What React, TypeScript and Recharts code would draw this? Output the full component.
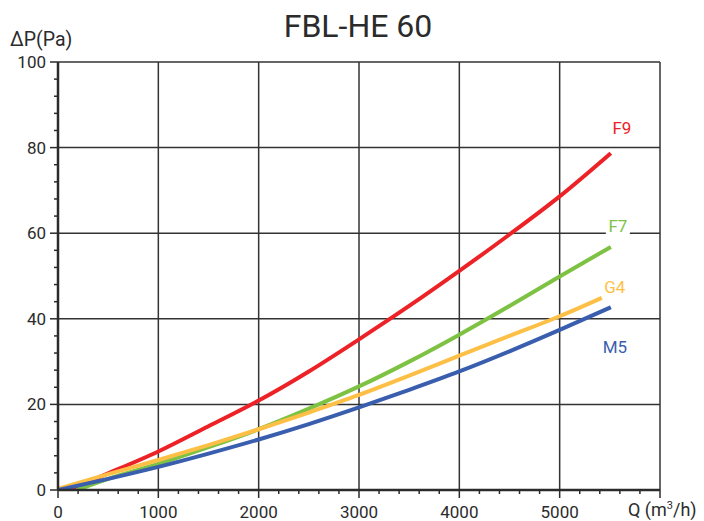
import React from 'react';
import {
  LineChart,
  Line,
  XAxis,
  YAxis,
  ReferenceLine,
  ReferenceDot,
} from 'recharts';

// Kurvy: Q [m3/h] -> ΔP [Pa]
const f9 = [
  { q: 100, p: 0 }, { q: 500, p: 3.9 }, { q: 1000, p: 9.0 }, { q: 1500, p: 14.9 },
  { q: 2000, p: 20.9 }, { q: 2500, p: 27.7 }, { q: 3000, p: 35.2 }, { q: 3500, p: 43.0 },
  { q: 4000, p: 51.2 }, { q: 4500, p: 59.7 }, { q: 5000, p: 68.6 }, { q: 5510, p: 78.7 },
];
const f7 = [
  { q: 190, p: 0 }, { q: 500, p: 2.6 }, { q: 1000, p: 6.1 }, { q: 1500, p: 10.0 },
  { q: 2000, p: 14.2 }, { q: 2500, p: 19.0 }, { q: 3000, p: 24.2 }, { q: 3500, p: 30.0 },
  { q: 4000, p: 36.3 }, { q: 4500, p: 43.0 }, { q: 5000, p: 49.9 }, { q: 5510, p: 56.8 },
];
const g4 = [
  { q: 0, p: 0.3 }, { q: 500, p: 3.7 }, { q: 1000, p: 7.0 }, { q: 1500, p: 10.5 },
  { q: 2000, p: 14.2 }, { q: 2500, p: 18.1 }, { q: 3000, p: 22.2 }, { q: 3500, p: 26.7 },
  { q: 4000, p: 31.4 }, { q: 4500, p: 36.0 }, { q: 5000, p: 40.6 }, { q: 5420, p: 44.9 },
];
const m5 = [
  { q: 0, p: 0 }, { q: 500, p: 2.6 }, { q: 1000, p: 5.4 }, { q: 1500, p: 8.5 },
  { q: 2000, p: 11.8 }, { q: 2500, p: 15.4 }, { q: 3000, p: 19.3 }, { q: 3500, p: 23.4 },
  { q: 4000, p: 27.7 }, { q: 4500, p: 32.4 }, { q: 5000, p: 37.4 }, { q: 5510, p: 42.7 },
];

const xTicks = [0, 200, 400, 600, 800, 1000, 1200, 1400, 1600, 1800, 2000, 2200, 2400, 2600, 2800, 3000,
  3200, 3400, 3600, 3800, 4000, 4200, 4400, 4600, 4800, 5000, 5200, 5400, 5600, 5800, 6000];
const yTicks = [0, 4, 8, 12, 16, 20, 24, 28, 32, 36, 40, 44, 48, 52, 56, 60, 64, 68, 72, 76, 80, 84, 88, 92, 96, 100];
const xGrid = [1000, 2000, 3000, 4000, 5000, 6000];
const yGrid = [20, 40, 60, 80, 100];

const series = [
  { name: 'F9', data: f9, color: '#ec2227', labelQ: 5620, labelP: 84.6 },
  { name: 'F7', data: f7, color: '#7dc242', labelQ: 5580, labelP: 61.7 },
  { name: 'G4', data: g4, color: '#fdbf45', labelQ: 5550, labelP: 47.4 },
  { name: 'M5', data: m5, color: '#3a5eae', labelQ: 5550, labelP: 33.4 },
];

const FONT = 'Roboto, "DejaVu Sans", sans-serif';
const INK = '#2b2b2b';

const YTick = ({ x, y, payload }: any) => {
  const major = payload.value % 20 === 0;
  return (
    <g>
      <line x1={x - (major ? 8 : 4)} x2={x} y1={y} y2={y} stroke={INK} strokeWidth={1.5} />
      {major && (
        <text x={x - 12} y={y} dy={6} textAnchor="end" fontSize={17} fill={INK} fontFamily={FONT}>
          {payload.value}
        </text>
      )}
    </g>
  );
};

const XTick = ({ x, y, payload }: any) => {
  const major = payload.value % 1000 === 0;
  return (
    <g>
      <line x1={x} x2={x} y1={y} y2={y + (major ? 8 : 4)} stroke={INK} strokeWidth={1.5} />
      {major && payload.value < 6000 && (
        <text x={x} y={y + 28} textAnchor="middle" fontSize={17} fill={INK} fontFamily={FONT}>
          {payload.value}
        </text>
      )}
    </g>
  );
};

const SeriesLabel = (color: string, text: string) => (props: any) => {
  const { viewBox } = props;
  const cx = viewBox.x + (viewBox.width || 0) / 2;
  const cy = viewBox.y + (viewBox.height || 0) / 2;
  return (
    <g>
      {text === 'F7' && <rect x={cx - 12} y={cy - 9} width={24} height={18} fill="#fff" />}
      <text x={cx} y={cy} dy={6} textAnchor="middle" fontSize={17} fill={color} fontFamily={FONT}>
        {text}
      </text>
    </g>
  );
};

export default function App() {
  return (
    <div style={{ position: 'absolute', left: 0, top: 0, width: 704, height: 521, background: '#fff' }}>
      <div style={{ position: 'absolute', left: 0, top: 7, width: 716, textAlign: 'center', fontSize: 32, color: INK, fontFamily: FONT }}>
        FBL-HE 60
      </div>
      <div style={{ position: 'absolute', left: 10, top: 28, fontSize: 19.5, color: INK, fontFamily: FONT }}>
        ΔP(Pa)
      </div>
      <div style={{ position: 'absolute', left: 628, top: 499, fontSize: 18, color: INK, fontFamily: FONT }}>
        Q (m<sup style={{ fontSize: 11 }}>3</sup>/h)
      </div>
      <LineChart width={704} height={521} margin={{ top: 62, right: 44, bottom: 0, left: 0 }}>
        {xGrid.map((v) => (
          <ReferenceLine key={'x' + v} x={v} stroke="#333" strokeWidth={1.5} />
        ))}
        {yGrid.map((v) => (
          <ReferenceLine key={'y' + v} y={v} stroke="#333" strokeWidth={1.5} />
        ))}
        <XAxis
          type="number"
          dataKey="q"
          domain={[0, 6000]}
          ticks={xTicks}
          interval={0}
          height={31}
          tickSize={0}
          tickMargin={0}
          tickLine={false}
          tick={<XTick />}
          axisLine={{ stroke: INK, strokeWidth: 2.5 }}
          allowDataOverflow
        />
        <YAxis
          type="number"
          dataKey="p"
          domain={[0, 100]}
          ticks={yTicks}
          interval={0}
          width={58}
          tickSize={0}
          tickMargin={0}
          tickLine={false}
          tick={<YTick />}
          axisLine={{ stroke: INK, strokeWidth: 2.5 }}
          allowDataOverflow
        />
        {series.map((s) => (
          <Line
            key={s.name}
            data={s.data}
            dataKey="p"
            type="monotone"
            stroke={s.color}
            strokeWidth={4}
            dot={false}
            isAnimationActive={false}
          />
        ))}
        {series.map((s) => (
          <ReferenceDot
            key={'l' + s.name}
            x={s.labelQ}
            y={s.labelP}
            r={0}
            fill="none"
            stroke="none"
            label={SeriesLabel(s.color, s.name)}
          />
        ))}
      </LineChart>
    </div>
  );
}
